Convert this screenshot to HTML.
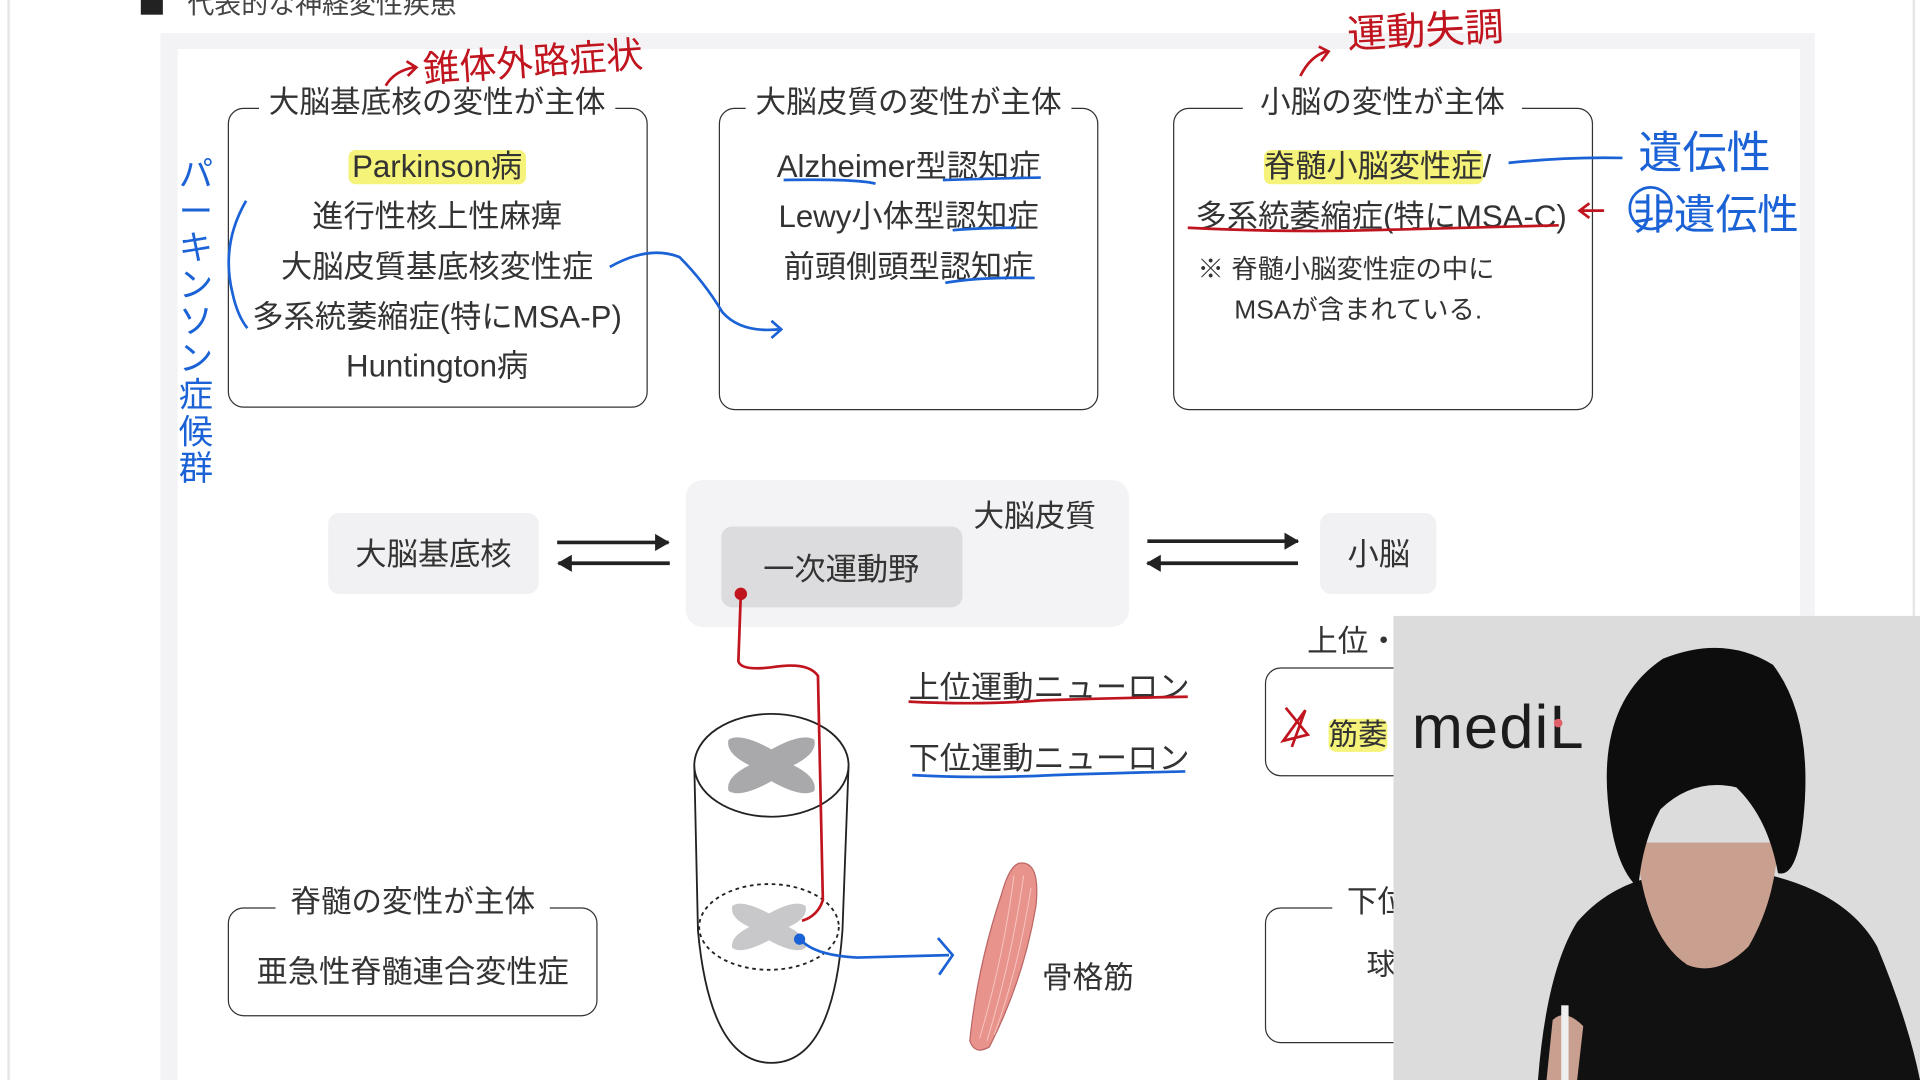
<!DOCTYPE html>
<html><head><meta charset="utf-8"><style>
html,body{margin:0;padding:0;width:1920px;height:1080px;overflow:hidden;background:#fff;}
#s{position:absolute;left:0;top:0;width:1568px;height:882px;transform:scale(1.22449);transform-origin:0 0;font-family:"Liberation Sans","Noto Sans CJK JP",sans-serif;color:#333;}
.a{position:absolute;white-space:nowrap;}
.box{position:absolute;border:1.6px solid #333;border-radius:13px;}
.t{position:absolute;background:#fff;padding:0 8px;font-size:25px;line-height:28px;transform:translateX(-50%);white-space:nowrap;}
.c{position:absolute;transform:translate(-50%,-50%);white-space:nowrap;font-size:25.5px;}
.hl{background:#f6f37a;border-radius:6px;}
.g{position:absolute;background:#f1f1f3;border-radius:9px;}
</style></head><body><div id="s">
<div class="a" style="left:6px;top:0;width:2px;height:882px;background:#e6e6e8"></div>
<div class="a" style="left:1562px;top:0;width:2px;height:882px;background:#e6e6e8"></div>
<div class="a" style="left:131px;top:27px;width:1351px;height:855px;background:#f3f3f5"></div>
<div class="a" style="left:145px;top:40px;width:1325px;height:842px;background:#fff"></div>
<div class="a" style="left:115px;top:-2px;width:18px;height:14px;background:#222"></div>
<div class="a" style="left:153px;top:-14px;font-size:22px;color:#444">代表的な神経変性疾患</div>

<!-- box1 -->
<div class="box" style="left:186px;top:88px;width:341px;height:243px"></div>
<div class="t" style="left:357px;top:70px">大脳基底核の変性が主体</div>
<div class="c" style="left:357px;top:134px"><span class="hl" style="padding:0 3px">Parkinson病</span></div>
<div class="c" style="left:357px;top:175px">進行性核上性麻痺</div>
<div class="c" style="left:357px;top:216px">大脳皮質基底核変性症</div>
<div class="c" style="left:357px;top:257px">多系統萎縮症(特にMSA-P)</div>
<div class="c" style="left:357px;top:297px">Huntington病</div>
<!-- box2 -->
<div class="box" style="left:587px;top:88px;width:308px;height:245px"></div>
<div class="t" style="left:742px;top:70px">大脳皮質の変性が主体</div>
<div class="c" style="left:742px;top:134px">Alzheimer型認知症</div>
<div class="c" style="left:742px;top:175px">Lewy小体型認知症</div>
<div class="c" style="left:742px;top:216px">前頭側頭型認知症</div>
<!-- box3 -->
<div class="box" style="left:958px;top:88px;width:341px;height:245px"></div>
<div class="t" style="left:1129px;top:70px;padding:0 14px">小脳の変性が主体</div>
<div class="c" style="left:1125px;top:134px"><span class="hl">脊髄小脳変性症</span>/</div>
<div class="c" style="left:1128px;top:175px">多系統萎縮症(特にMSA-C)</div>
<div class="a" style="left:978px;top:203px;font-size:21.5px">※ 脊髄小脳変性症の中に</div>
<div class="a" style="left:1008px;top:236px;font-size:21.5px">MSAが含まれている.</div>

<!-- middle -->
<div class="g" style="left:268px;top:419px;width:172px;height:66px"></div>
<div class="c" style="left:354px;top:451px">大脳基底核</div>
<div class="g" style="left:560px;top:392px;width:362px;height:120px;border-radius:14px;background:#f3f3f5"></div>
<div class="a" style="left:795px;top:402px;font-size:25px">大脳皮質</div>
<div class="g" style="left:589px;top:430px;width:197px;height:66px;background:#dcdcde"></div>
<div class="c" style="left:687px;top:463px">一次運動野</div>
<div class="g" style="left:1078px;top:419px;width:95px;height:66px"></div>
<div class="c" style="left:1126px;top:451px">小脳</div>

<div class="a" style="left:742px;top:541px;font-size:25.5px">上位運動ニューロン</div>
<div class="a" style="left:742px;top:599px;font-size:25.5px">下位運動ニューロン</div>
<div class="a" style="left:851px;top:779px;font-size:25px">骨格筋</div>

<div class="box" style="left:186px;top:741px;width:300px;height:87px"></div>
<div class="t" style="left:337px;top:723px;padding:0 12px">脊髄の変性が主体</div>
<div class="c" style="left:337px;top:792px">亜急性脊髄連合変性症</div>

<div class="box" style="left:1033px;top:545px;width:200px;height:87px"></div>
<div class="t" style="left:1130px;top:510px;padding:0 12px">上位・下位</div>
<div class="a" style="left:1085px;top:580px;font-size:24px"><span class="hl">筋萎</span></div>
<div class="box" style="left:1033px;top:741px;width:200px;height:109px"></div>
<div class="t" style="left:1150px;top:723px;padding:0 12px">下位運動</div>
<div class="a" style="left:1116px;top:768px;font-size:24px">球</div>

<svg class="a" style="left:0;top:0" width="1568" height="882" viewBox="0 0 1568 882">
<defs><marker id="ah" markerUnits="userSpaceOnUse" markerWidth="12" markerHeight="14" refX="11" refY="7" orient="auto"><path d="M0,0 L12,7 L0,14z" fill="#222"/></marker></defs>
<g stroke="#222" stroke-width="3" fill="none">
<line x1="455" y1="443" x2="546" y2="443" marker-end="url(#ah)"/>
<line x1="547" y1="460" x2="456" y2="460" marker-end="url(#ah)"/>
<line x1="937" y1="442" x2="1060" y2="442" marker-end="url(#ah)"/>
<line x1="1060" y1="460" x2="937" y2="460" marker-end="url(#ah)"/>
</g>
<!-- spinal cord -->
<g stroke="#222" stroke-width="1.5" fill="none">
<path d="M567,625 L570,760 Q580,868 630,868 Q680,868 688,760 L693,625"/>
<ellipse cx="630" cy="625" rx="63" ry="42" fill="#fff"/>
<ellipse cx="628" cy="757" rx="57" ry="35" stroke-dasharray="3,3"/>
</g>
<g fill="#a9a9ab">
<path d="M595,604 Q605,598 630,612 Q655,598 665,604 Q668,615 648,625 Q668,635 665,646 Q655,652 630,638 Q605,652 595,646 Q592,635 612,625 Q592,615 595,604z"/>
<path d="M598,740 Q605,734 628,746 Q650,734 658,740 Q660,750 644,757 Q660,765 658,774 Q650,780 628,768 Q605,780 598,774 Q596,765 612,757 Q596,750 598,740z" fill="#c8c8ca"/>
</g>
<!-- muscle -->
<path d="M832,705 Q850,702 846,740 Q836,800 808,855 Q796,862 792,850 Q798,790 818,730 Q824,708 832,705z" fill="#e8938c" stroke="#b66" stroke-width="1"/>
<g stroke="#f6c6c0" stroke-width="0.8" fill="none">
<path d="M828,715 Q820,780 800,848"/><path d="M836,715 Q826,785 806,850"/><path d="M842,725 Q832,790 812,845"/>
</g>
<!-- red annotations -->
<g stroke="#c0141e" stroke-width="2.2" fill="none">
<path d="M605,485 L603,540 Q605,548 630,545 Q660,540 668,552 L672,735 Q668,748 655,752"/>
<circle cx="605" cy="485" r="4" fill="#c0141e"/>
<path d="M742,573 Q800,576 850,572 Q910,570 970,569"/>
<path d="M970,186 Q1050,190 1120,188 Q1200,186 1273,184"/>
<path d="M1310,172 L1290,172 M1298,166 L1290,172 L1298,178"/>
<path d="M315,70 Q322,58 338,55 M332,50 L340,55 L333,62"/>
<path d="M1062,62 Q1070,46 1083,42 M1077,38 L1085,42 L1079,50"/>
<path d="M1050,578 L1068,600 L1048,605 L1066,580 L1055,610"/>
</g>
<!-- blue annotations -->
<g stroke="#1a62d6" stroke-width="2.2" fill="none">
<path d="M745,633 Q800,636 860,633 Q920,631 968,630"/>
<path d="M201,164 Q180,200 190,240 Q194,258 202,268"/>
<path d="M498,218 Q530,200 555,210 Q575,230 590,255 Q605,272 636,269 M630,262 L638,269 L630,276"/>
<path d="M640,147 Q700,146 715,150 M770,147 Q800,146 850,145 M778,188 Q800,186 830,186 M772,231 Q800,226 845,227"/>
<path d="M1232,133 Q1280,128 1325,129"/>
<path d="M652,765 Q662,780 700,782 Q740,781 775,780 M766,766 L778,780 L767,796"/>
<circle cx="653" cy="767" r="3.5" fill="#1a62d6"/>
<circle cx="1348" cy="170" r="17"/>
</g>
</svg>
<!-- handwritten text -->
<div class="a" style="left:345px;top:26px;font-size:30px;color:#c0141e;transform:rotate(-4deg)">錐体外路症状</div>
<div class="a" style="left:1100px;top:0px;font-size:32px;color:#c0141e;transform:rotate(-3deg)">運動失調</div>
<div class="a" style="left:1338px;top:96px;font-size:36px;color:#1a62d6">遺伝性</div>
<div class="a" style="left:1333px;top:148px;font-size:34px;color:#1a62d6">非遺伝性</div>
<div class="a" style="left:146px;top:128px;width:32px;font-size:28px;line-height:30px;color:#1a62d6;white-space:normal;word-break:break-all">パーキンソン症候群</div>

<!-- video overlay -->
<div class="a" style="left:1138px;top:503px;width:430px;height:379px;background:#dcdcdc;overflow:hidden">
<div class="a" style="left:15px;top:62px;font-size:50px;color:#1c1c1c;font-family:'Liberation Sans',sans-serif;letter-spacing:1px">mediL</div>
<svg class="a" style="left:0;top:0" width="430" height="379">
<path d="M118,379 Q125,290 150,250 Q180,215 230,210 L300,210 Q370,225 395,270 Q420,330 430,379z" fill="#111"/>
<path d="M198,185 Q205,262 240,285 Q265,295 290,270 Q312,232 314,185z" fill="#c9a090"/>
<path d="M175,150 Q168,70 220,35 Q270,15 310,40 Q340,80 336,150 Q332,215 314,210 Q306,165 280,140 Q245,132 218,158 Q203,185 200,222 Q180,205 175,150z" fill="#0d0d0d"/>
<path d="M130,330 Q140,320 155,335 L150,379 L125,379z" fill="#c9a090"/>
<rect x="137" y="318" width="6" height="61" fill="#eee"/>
</svg>
<div class="a" style="left:131px;top:84px;width:7px;height:7px;border-radius:50%;background:#e0606a"></div>
</div>
</div></body></html>
